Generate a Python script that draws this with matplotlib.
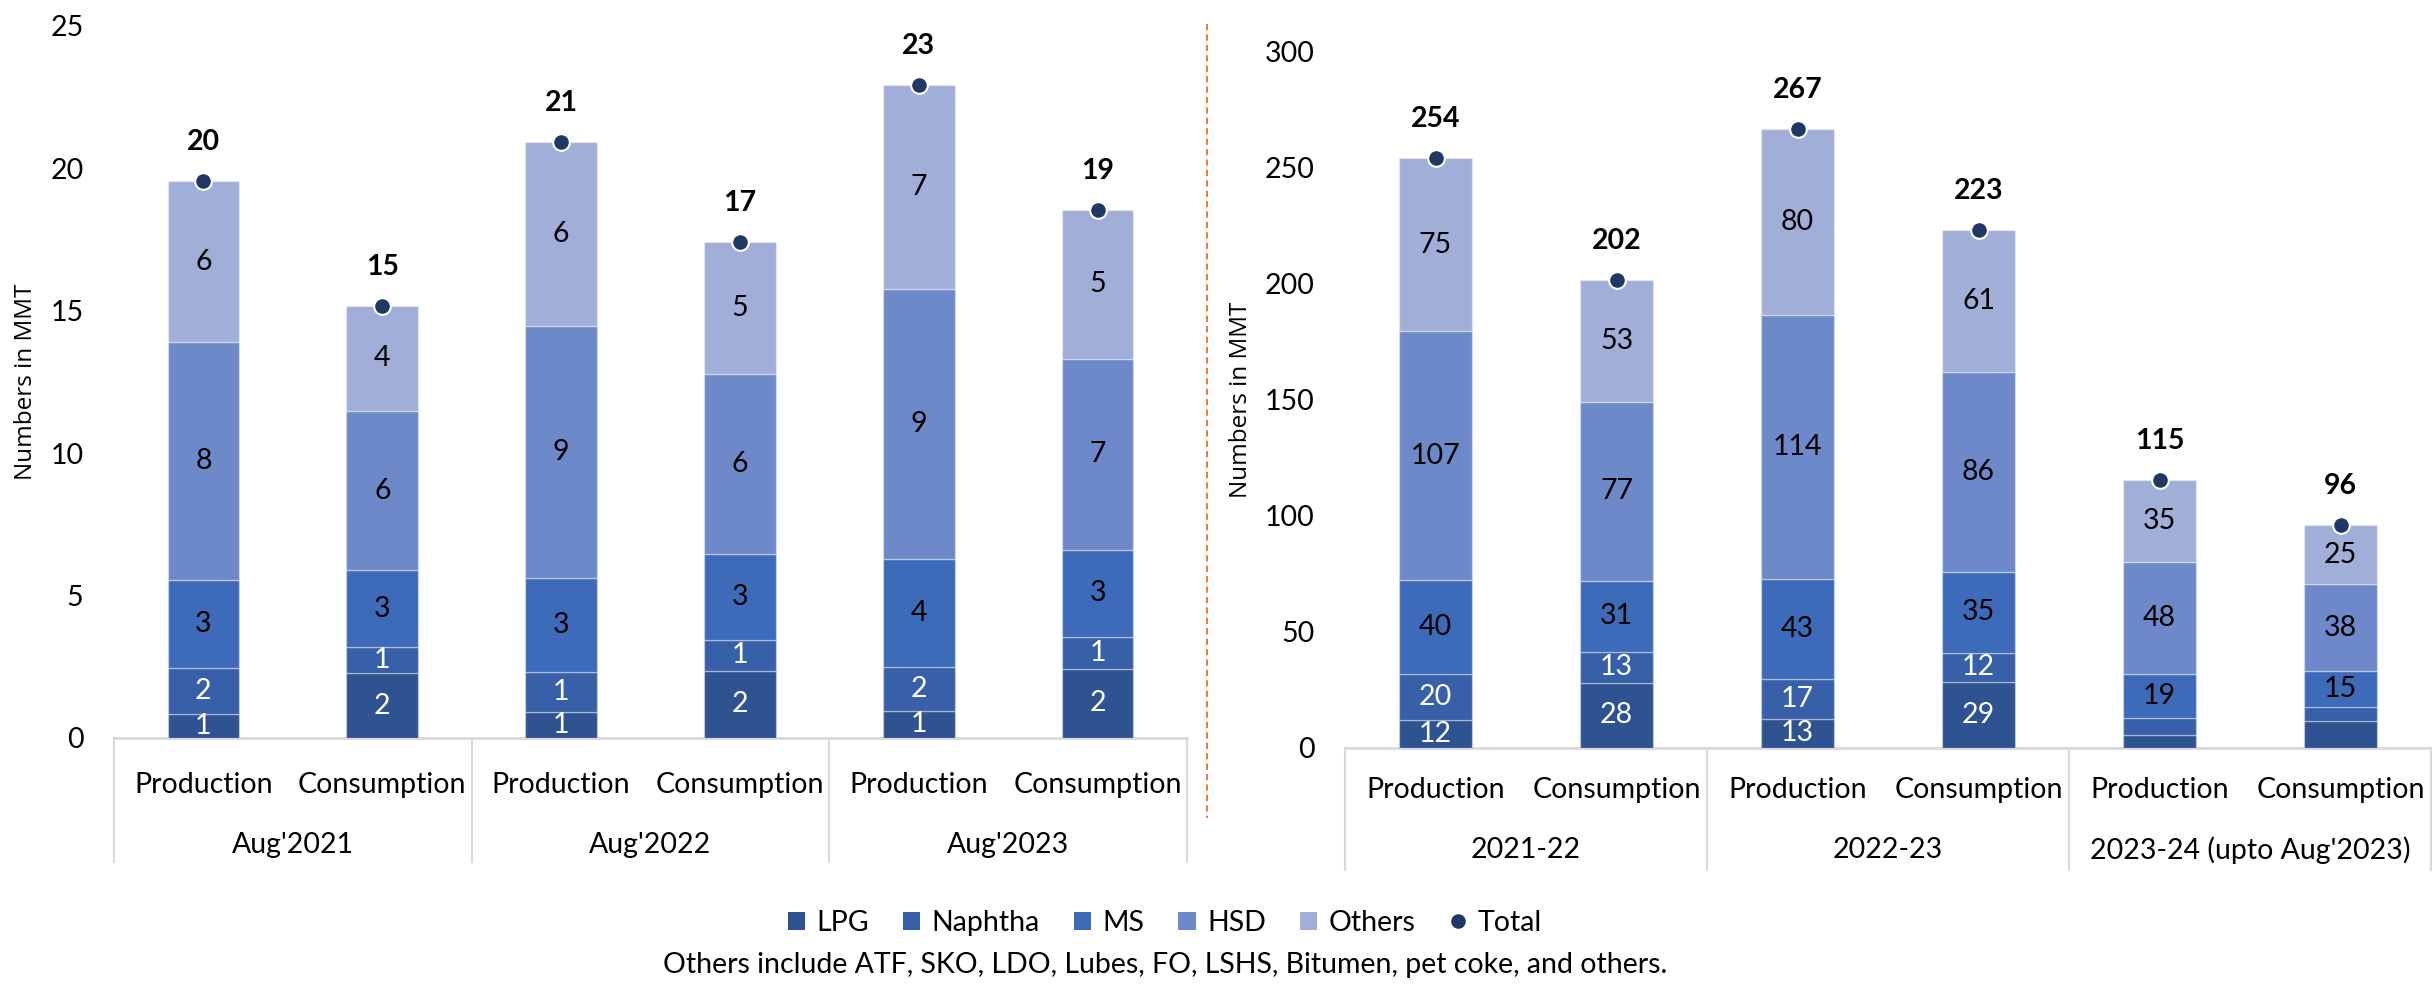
import matplotlib
matplotlib.use("Agg")
import matplotlib.pyplot as plt
from matplotlib.transforms import blended_transform_factory
from matplotlib.patches import Patch
from matplotlib.lines import Line2D

plt.rcParams['font.family'] = ['Lato', 'DejaVu Sans']

# ---------------- data ----------------
series = ["LPG", "Naphtha", "MS", "HSD", "Others"]
colors = ["#2F5290", "#3760A8", "#3E6BB9", "#6E89C9", "#A0AED8"]
label_colors = ["white", "white", "black", "black", "black"]

bar_labels = ["Production", "Consumption"] * 3

left_groups = ["Aug'2021", "Aug'2022", "Aug'2023"]
left_lpg = [0.85, 2.28, 0.92, 2.36, 0.95, 2.43]
left_naphtha = [1.61, 0.91, 1.41, 1.09, 1.55, 1.12]
left_ms = [3.09, 2.70, 3.29, 3.00, 3.80, 3.05]
left_hsd = [8.34, 5.59, 8.83, 6.32, 9.45, 6.71]
left_others = [5.67, 3.70, 6.47, 4.65, 7.17, 5.23]
left_hidden = []

right_groups = ["2021-22", "2022-23", "2023-24 (upto Aug'2023)"]
right_lpg = [12.2, 28.1, 12.7, 28.6, 5.4, 11.8]
right_naphtha = [19.6, 13.3, 17.1, 12.4, 7.7, 6.0]
right_ms = [40.4, 30.7, 43.1, 35.0, 18.6, 15.2]
right_hsd = [107.4, 77.2, 113.9, 86.2, 48.3, 37.6]
right_others = [74.7, 52.6, 80.0, 61.2, 35.4, 25.4]
# segment labels not shown in the source (bar index, series)
right_hidden = [(4, "LPG"), (4, "Naphtha"), (5, "LPG"), (5, "Naphtha")]

FS = 20.5
W, H = 2432, 991

fig = plt.figure(figsize=(W / 100, H / 100), dpi=100)


def fy(px):
    return 1 - px / H


def draw(ax, data, groups, hidden, ymax, ystep, axis_px, lab_px, grp_px, sep_px, ylabel_x):
    x = list(range(len(bar_labels)))
    bottoms = [0.0] * len(x)
    for name, vals, col, lc in zip(series, data, colors, label_colors):
        ax.bar(x, vals, bottom=bottoms, width=0.4, color=col,
               edgecolor=(1, 1, 1, 0.35), linewidth=1.0, zorder=2)
        for i, v in enumerate(vals):
            if (i, name) not in hidden:
                ax.text(i, bottoms[i] + v / 2, f"{round(v)}", ha="center", va="center",
                        color=lc, fontsize=FS, zorder=4)
        bottoms = [b + v for b, v in zip(bottoms, vals)]
    totals = bottoms
    ax.plot(x, totals, linestyle="none", marker="o", markersize=12,
            markerfacecolor="#1F3864", markeredgecolor="white", markeredgewidth=1.5,
            zorder=5, clip_on=False)
    for i, t in enumerate(totals):
        ax.annotate(f"{round(t)}", (i, t), xytext=(0, 28), textcoords="offset points",
                    ha="center", va="center", fontsize=FS, fontweight="bold")
    ax.set_xlim(-0.5, len(x) - 0.5)
    ax.set_ylim(0, ymax)
    ax.set_yticks(range(0, ymax + 1, ystep))
    ax.tick_params(axis="y", length=0, labelsize=FS, pad=22)
    ax.set_xticks([])
    for s in ax.spines.values():
        s.set_visible(False)
    # category axis
    tr = blended_transform_factory(ax.transData, fig.transFigure)
    gc = "#D9D9D9"
    ax.plot([-0.5, len(x) - 0.5], [fy(axis_px)] * 2, color=gc, lw=2, transform=tr,
            clip_on=False, zorder=1)
    for b in [-0.5, 1.5, 3.5, 5.5]:
        ax.plot([b, b], [fy(axis_px), fy(sep_px)], color=gc, lw=1.5, transform=tr,
                clip_on=False)
    for i, lab in enumerate(bar_labels):
        ax.text(i, fy(lab_px), lab, transform=tr, ha="center", va="center", fontsize=FS)
    for g, name in enumerate(groups):
        ax.text(2 * g + 0.5, fy(grp_px), name, transform=tr, ha="center", va="center",
                fontsize=FS)
    fig.text(ylabel_x / W, (fy(axis_px) + ax.get_position().y1) / 2, "Numbers in MMT",
             rotation=90, ha="center", va="center", fontsize=17.5, family="Open Sans")


axL = fig.add_axes([114 / W, fy(738), (1187 - 114) / W, (738 - 26) / H])
draw(axL, [left_lpg, left_naphtha, left_ms, left_hsd, left_others], left_groups,
     left_hidden, 25, 5, 738, 785, 845, 862, 26)

axR = fig.add_axes([1345 / W, fy(748), (2431 - 1345) / W, (748 - 52) / H])
draw(axR, [right_lpg, right_naphtha, right_ms, right_hsd, right_others], right_groups,
     right_hidden, 300, 50, 748, 790, 850, 870, 1241)

# divider
fig.add_artist(Line2D([1207 / W, 1207 / W], [fy(24), fy(818)], color="#ED7D31",
                      lw=1.5, linestyle=(0, (3, 2)), transform=fig.transFigure))

handles = [Patch(facecolor=c, label=s) for c, s in zip(colors, series)]
handles.append(Line2D([], [], linestyle="none", marker="o", markersize=12,
                      markerfacecolor="#1F3864", markeredgecolor="white",
                      markeredgewidth=1.5, label="Total"))
fig.legend(handles=handles, loc="center", bbox_to_anchor=(1165 / W, fy(923)), ncol=6,
           frameon=False, fontsize=FS, handlelength=0.6, handleheight=0.6,
           handletextpad=0.4, columnspacing=1.2)

fig.text(1165 / W, fy(965), "Others include ATF, SKO, LDO, Lubes, FO, LSHS, Bitumen, pet coke, and others.",
         ha="center", va="center", fontsize=FS)

fig.savefig("out.png", dpi=100)
